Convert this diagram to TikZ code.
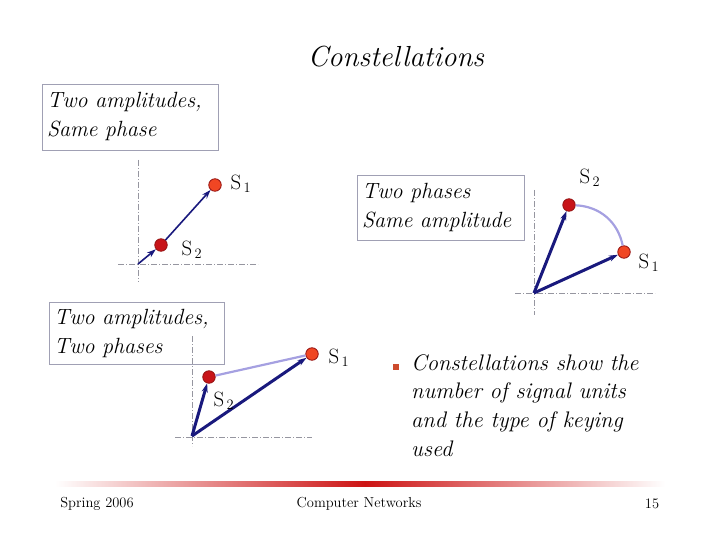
\documentclass[tikz,border=0pt]{standalone}
\usepackage{tikz}
\usetikzlibrary{arrows.meta,positioning,calc}
\definecolor{cVec}  {RGB}{25,25,125}
\definecolor{cPtA}  {RGB}{240,70,35}
\definecolor{cPtB}  {RGB}{200,20,25}
\definecolor{cRim}  {RGB}{150,20,20}
\definecolor{cArc}  {RGB}{165,160,225}
\definecolor{cBox}  {RGB}{160,160,180}
\definecolor{cAxis} {RGB}{150,150,160}
\definecolor{cBull} {RGB}{205,75,45}
\definecolor{cBand} {RGB}{205,20,20}
\tikzset{
  >={Stealth[length=9pt,width=6pt]},
  pt/.style={draw=cRim,circle,minimum size=12.5pt,inner sep=0pt,fill=cPtA,line width=0.8pt},
  ptB/.style={pt,fill=cPtB},
  axis/.style={-,cAxis,line width=0.6pt,dash pattern=on 6pt off 2pt on 1pt off 2pt},
  vecthin/.style={->,cVec,line width=1.6pt},
  vec/.style={->,cVec,line width=3pt},
  ptlink/.style={-,cArc,line width=2.2pt},
  capbox/.style={draw=cBox,line width=0.8pt,align=left,inner xsep=5pt,inner ysep=3pt,
                 font=\fontsize{22}{29}\selectfont\itshape},
  slab/.style={font=\fontsize{22}{26}\selectfont,inner sep=0pt},
  foot/.style={font=\fontsize{14.5}{16}\selectfont,inner sep=0pt},
}
\newcommand{\Sg}[1]{$\mathrm{S}_{\,#1}$}
\begin{document}
\begin{tikzpicture}[x=1pt,y=-1pt]
  \useasboundingbox (0,0) rectangle (720,540);

  \node[font=\fontsize{29}{33}\selectfont\itshape] (title) at (396,57) {Constellations};

  % two amplitudes, same phase
  \node[capbox,text width=166pt,minimum height=66pt] (capA) at (130,117)
    {Two amplitudes,\\Same phase};
  \coordinate (oA) at (138,264);
  \coordinate (aAtop) at (138,160);
  \coordinate (aAbot) at (138,282);
  \coordinate (aAleft) at (118,264);
  \coordinate (aAright) at (258,264);
  \draw[axis] (aAtop) -- (aAbot);
  \draw[axis] (aAleft) -- (aAright);
  \node[ptB] (s2A) at (161,245) {};
  \node[pt]  (s1A) at (215,185) {};
  \draw[vecthin] (oA) -- (s2A);
  \draw[vecthin] (s2A) -- (s1A);
  \node[slab] (l1A) at (241,184) {\Sg{1}};
  \node[slab] (l2A) at (192,250) {\Sg{2}};

  % two phases, same amplitude
  \node[capbox,text width=157pt,minimum height=65pt] (capB) at (440.5,207.5)
    {Two phases\\Same amplitude};
  \coordinate (oB) at (534,293);
  \coordinate (aBtop) at (534,190);
  \coordinate (aBbot) at (534,315);
  \coordinate (aBleft) at (515,293);
  \coordinate (aBright) at (655,293);
  \draw[axis] (aBtop) -- (aBbot);
  \draw[axis] (aBleft) -- (aBright);
  \node[ptB] (s2B) at (569,205) {};
  \node[pt]  (s1B) at (624,252) {};
  \draw[ptlink] (s2B) to[bend left=38] (s1B);
  \draw[vec] (oB) -- (s2B);
  \draw[vec] (oB) -- (s1B);
  \node[slab] (l2B) at (590,178) {\Sg{2}};
  \node[slab] (l1B) at (649,263) {\Sg{1}};

  % two amplitudes, two phases
  \node[capbox,text width=165pt,minimum height=62pt] (capC) at (136.5,333)
    {Two amplitudes,\\Two phases};
  \coordinate (oC) at (192,436);
  \coordinate (aCtop) at (192,336);
  \coordinate (aCbot) at (192,446);
  \coordinate (aCleft) at (175,437);
  \coordinate (aCright) at (312,437);
  \draw[axis] (aCtop) -- (aCbot);
  \draw[axis] (aCleft) -- (aCright);
  \node[ptB] (s2C) at (209,377) {};
  \node[pt]  (s1C) at (312,354) {};
  \draw[ptlink] (s2C) -- (s1C);
  \draw[vec] (oC) -- (s2C);
  \draw[vec] (oC) -- (s1C);
  \node[slab] (l1C) at (339,358) {\Sg{1}};
  \node[slab] (l2C) at (224,401) {\Sg{2}};

  % bullet
  \node[fill=cBull,minimum size=6pt,inner sep=0pt] (bul) at (396,367) {};
  \node[anchor=north west,inner sep=0pt,align=left,
        font=\fontsize{22.5}{28.7}\selectfont\itshape] (note) at (411,354)
    {Constellations show the\\number of signal units\\and the type of keying\\used};

  % footer
  \coordinate (bandL) at (55,484);
  \coordinate (bandM) at (365,484);
  \coordinate (bandR) at (665,484);
  \shade[left color=white,right color=cBand] ($(bandL)+(0,-2.5)$) rectangle ($(bandM)+(0,2.5)$);
  \shade[left color=cBand,right color=white] ($(bandM)+(0,-2.5)$) rectangle ($(bandR)+(0,2.5)$);
  \node[foot] (fl) at (97,504) {Spring 2006};
  \node[foot] (fc) at (359,504) {Computer Networks};
  \node[foot] (fr) at (652,504) {15};
\end{tikzpicture}
\end{document}
